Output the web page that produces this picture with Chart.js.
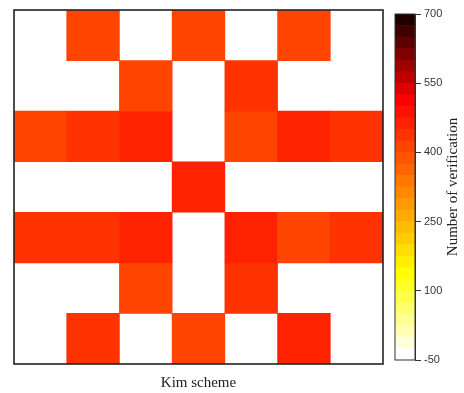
<!DOCTYPE html>
<html><head><meta charset="utf-8">
<script src="https://cdn.jsdelivr.net/npm/chart.js@4/dist/chart.umd.min.js"></script>
<style>
html,body{margin:0;padding:0;background:#fff}
#wrap{position:relative;width:464px;height:393px}
canvas{position:absolute;top:0}
</style></head>
<body>
<div id="wrap">
  <canvas id="hm" width="464" height="393" style="left:0"></canvas>
  <canvas id="cb" width="80" height="393" style="left:384px"></canvas>
</div>
<script>
// Heatmap data: rows listed top -> bottom, null = empty (white) cell
const COLS=["1","2","3","4","5","6","7"];
const ROW0=[null,410,null,412,null,408,null];
const ROW1=[null,null,415,null,440,null,null];
const ROW2=[414,436,462,null,411,465,438];
const ROW3=[null,null,null,463,null,null,null];
const ROW4=[437,435,461,null,464,413,439];
const ROW5=[null,null,416,null,436,null,null];
const ROW6=[null,441,null,409,null,466,null];
const ROWS=[ROW0,ROW1,ROW2,ROW3,ROW4,ROW5,ROW6];

// Colour bar
const CB_MIN=-50,CB_MAX=700,CB_STEP=25;
const CB_TICKS=[-50,100,250,400,550,700];
const X_TITLE="Kim scheme";
const CB_TITLE="Number of verification";

// discrete colormap: white -> yellow -> red -> near black
function bandClr(i){
  if(i<=7)return`rgb(255,255,${Math.round(255*(7-i)/7)})`;
  if(i<=22)return`rgb(255,${Math.round(255*(22-i)/15)},0)`;
  return`rgb(${Math.max(0,255-(i-22)*32)},0,0)`;
}
function valClr(v){
  let i=Math.floor((v-CB_MIN)/CB_STEP);
  i=Math.max(0,Math.min((CB_MAX-CB_MIN)/CB_STEP-1,i));
  return bandClr(i);
}

// frame around the chart area
const frame={id:"frame",afterDraw(ch,a,o){
  const c=ch.ctx,r=ch.chartArea;
  c.save();c.strokeStyle=o.color||"#222";c.lineWidth=o.width||1.5;
  c.strokeRect(r.left,r.top,r.right-r.left,r.bottom-r.top);
  if(o.text){
    c.fillStyle="#222";c.font="15px 'Liberation Serif'";c.textAlign="center";c.textBaseline="middle";
    if(o.rot){c.translate(o.x,o.y);c.rotate(-Math.PI/2);c.fillText(o.text,0,0)}
    else c.fillText(o.text,(r.left+r.right)/2,o.y);
  }
  c.restore();
}};

const n=ROWS.length;
const hmSets=ROWS.map((row,r)=>({
  data:row.map(v=>v===null?null:[n-1-r,n-r]),
  backgroundColor:row.map(v=>v===null?"#fff":valClr(v)),
  borderWidth:0,grouped:false,barPercentage:1,categoryPercentage:1
}));

new Chart(document.getElementById("hm"),{type:"bar",plugins:[frame],
  data:{labels:COLS,datasets:hmSets},
  options:{responsive:false,animation:false,devicePixelRatio:1,
    layout:{padding:{left:14,top:10,right:81,bottom:29}},
    plugins:{legend:{display:false},tooltip:{enabled:false},frame:{width:1.6,color:"#222",text:X_TITLE,y:383}},
    scales:{x:{display:false},y:{display:false,min:0,max:n}}}});

// colour bar as floating bars, one per band
const bands=[];for(let v=CB_MIN;v<CB_MAX;v+=CB_STEP)bands.push(v);
const cbSets=bands.map((v,i)=>({data:[[v,v+CB_STEP]],backgroundColor:bandClr(i),borderWidth:0,grouped:false,barPercentage:1,categoryPercentage:1}));

new Chart(document.getElementById("cb"),{type:"bar",plugins:[frame],
  data:{labels:["c"],datasets:cbSets},
  options:{responsive:false,animation:false,devicePixelRatio:1,
    layout:{padding:{left:11,top:14,right:0,bottom:33}},
    plugins:{legend:{display:false},tooltip:{enabled:false},frame:{width:1,color:"#333",text:CB_TITLE,rot:true,x:69,y:187}},
    scales:{x:{display:false},
      y:{position:"right",min:CB_MIN,max:CB_MAX,afterFit:s=>{s.width=49},
        afterBuildTicks:s=>{s.ticks=CB_TICKS.map(v=>({value:v}))},
        grid:{drawOnChartArea:false,drawTicks:true,tickLength:6,color:"#333"},
        border:{display:true,color:"#333"},
        ticks:{padding:3,color:"#333",font:{family:"'Liberation Sans'",size:11}}}}}});
</script>
</body></html>
